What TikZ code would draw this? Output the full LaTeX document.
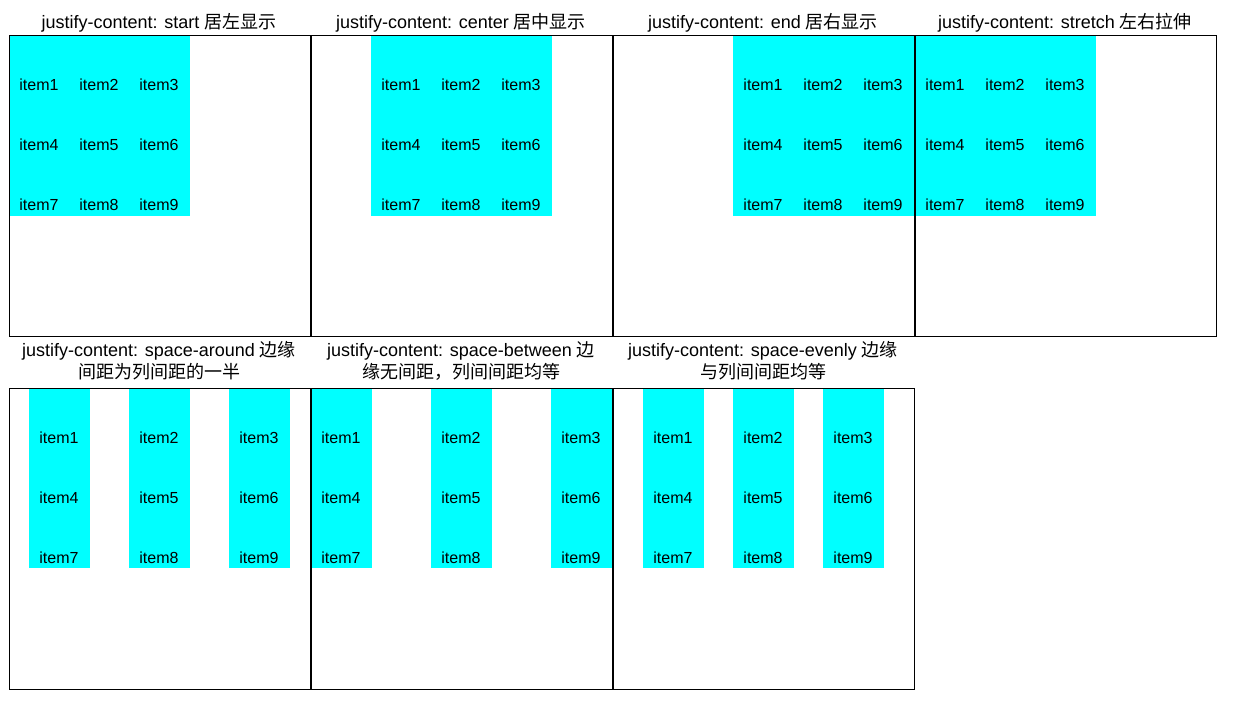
\documentclass[tikz,border=0pt]{standalone}
\usepackage{fontspec}
\setmainfont{Liberation Sans}
\newfontfamily\cjk{Noto Sans CJK SC}
\definecolor{aqua}{RGB}{0,255,255}
\tikzset{
  box/.style={draw, line width=1pt, minimum width=301pt, minimum height=301pt, inner sep=0, anchor=north west},
  column/.style={fill=aqua, minimum width=60.4pt, minimum height=180pt, inner sep=0, anchor=north west},
  itemlabel/.style={anchor=base, inner sep=0, font=\fontsize{16pt}{19pt}\selectfont},
  title/.style={anchor=base, inner sep=0, font=\fontsize{18pt}{22pt}\selectfont},
}

\begin{document}
\begin{tikzpicture}[x=1pt,y=-1pt]
\useasboundingbox (0,0) rectangle (1239,708);
% grids: box, row, column offsets
\foreach \b/\row/\cols in {0/0/{0,60,120}, 1/0/{60,120,180}, 2/0/{120,180,240}, 3/0/{0,60,120},
                           0/1/{20,120,220}, 1/1/{0,120,240}, 2/1/{30,120,210}} {
  \pgfmathsetmacro\bx{9+302*\b}
  \pgfmathsetmacro\by{36+352*\row}
  \foreach \c [count=\k] in \cols {
    \node[column] (col-\b-\row-\k) at (\bx+\c, \by) {};
    \foreach \r in {0,1,2} {
      \pgfmathtruncatemacro\n{3*\r+\k}
      \node[itemlabel] (item-\b-\row-\n) at (\bx+\c+30, \by+55+60*\r) {item\n};
    }
  }
  \node[box] (box-\b-\row) at (\bx-0.5, \by-0.5) {};
}
% titles
\foreach \b/\txt/\zh in {0/start/居左显示, 1/center/居中显示, 2/end/居右显示, 3/stretch/左右拉伸}
  \node[title] (title-\b-0) at (159+302*\b, 29) {justify-content: \txt\ {\cjk\zh}};
\foreach \b/\txt/\zha/\zhb in {0/space-around/边缘/间距为列间距的一半,
                               1/space-between/边/缘无间距，列间间距均等,
                               2/space-evenly/边缘/与列间间距均等} {
  \node[title] (title-\b-1a) at (159+302*\b, 356) {justify-content: \txt\ {\cjk\zha}};
  \node[title] (title-\b-1b) at (159+302*\b, 378) {\cjk\zhb};
}
\end{tikzpicture}
\end{document}
